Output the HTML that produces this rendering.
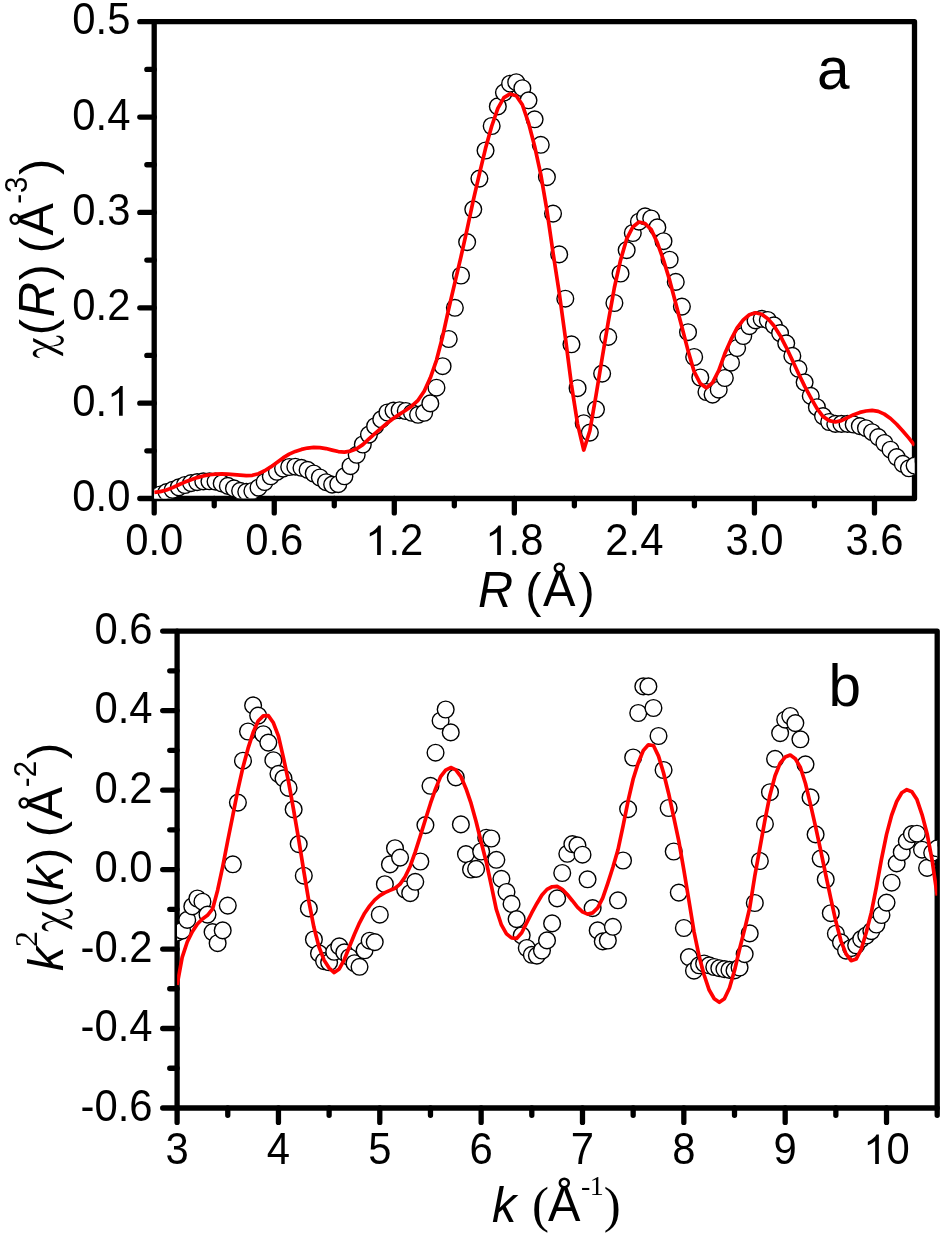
<!DOCTYPE html>
<html><head><meta charset="utf-8"><title>EXAFS fit</title>
<style>html,body{margin:0;padding:0;background:#fff}svg{display:block;will-change:transform}</style></head>
<body>
<svg width="944" height="1237" viewBox="0 0 944 1237">
<rect width="944" height="1237" fill="#fff"/>
<defs>
<clipPath id="ca"><rect x="154.2" y="21.7" width="760.3" height="476.8"/></clipPath>
<clipPath id="cb"><rect x="177.1" y="631.1" width="760.1" height="476.9"/></clipPath>
</defs>
<g fill="none" stroke="#000" stroke-width="5.3" stroke-linecap="round" stroke-linejoin="round">
<path d="M154.2 21.7 H914.5 V498.5 H154.2 Z"/>
<path d="M154.2 498.5 v14.4M274.25 498.5 v14.4M394.29 498.5 v14.4M514.34 498.5 v14.4M634.39 498.5 v14.4M754.44 498.5 v14.4M874.48 498.5 v14.4M214.22 498.5 v7.35M334.27 498.5 v7.35M454.32 498.5 v7.35M574.37 498.5 v7.35M694.41 498.5 v7.35M814.46 498.5 v7.35M154.2 498.5 h-14.4M154.2 403.14 h-14.4M154.2 307.78 h-14.4M154.2 212.42 h-14.4M154.2 117.06 h-14.4M154.2 21.7 h-14.4M154.2 450.82 h-7.35M154.2 355.46 h-7.35M154.2 260.1 h-7.35M154.2 164.74 h-7.35M154.2 69.38 h-7.35"/>
</g>
<g fill="none" stroke="#000" stroke-width="5.3" stroke-linecap="round" stroke-linejoin="round">
<path d="M177.1 631.1 H937.2 V1108 H177.1 Z"/>
<path d="M177.1 1108 v14.4M278.45 1108 v14.4M379.79 1108 v14.4M481.14 1108 v14.4M582.49 1108 v14.4M683.83 1108 v14.4M785.18 1108 v14.4M886.53 1108 v14.4M227.77 1108 v7.35M329.12 1108 v7.35M430.47 1108 v7.35M531.81 1108 v7.35M633.16 1108 v7.35M734.51 1108 v7.35M835.85 1108 v7.35M937.2 1108 v7.35M177.1 1108 h-14.4M177.1 1028.52 h-14.4M177.1 949.03 h-14.4M177.1 869.55 h-14.4M177.1 790.07 h-14.4M177.1 710.58 h-14.4M177.1 631.1 h-14.4M177.1 1068.26 h-7.35M177.1 988.77 h-7.35M177.1 909.29 h-7.35M177.1 829.81 h-7.35M177.1 750.33 h-7.35M177.1 670.84 h-7.35"/>
</g>
<g clip-path="url(#ca)" fill="#fff" stroke="#000" stroke-width="1.4">
<circle cx="154.2" cy="496.25" r="8.35"/>
<circle cx="160.34" cy="494.5" r="8.35"/>
<circle cx="166.47" cy="492.1" r="8.35"/>
<circle cx="172.61" cy="489.8" r="8.35"/>
<circle cx="178.74" cy="487.4" r="8.35"/>
<circle cx="184.88" cy="485" r="8.35"/>
<circle cx="191.02" cy="483.1" r="8.35"/>
<circle cx="197.15" cy="482.1" r="8.35"/>
<circle cx="203.29" cy="481.4" r="8.35"/>
<circle cx="209.42" cy="481.3" r="8.35"/>
<circle cx="215.56" cy="481.6" r="8.35"/>
<circle cx="221.7" cy="483.4" r="8.35"/>
<circle cx="227.83" cy="485.9" r="8.35"/>
<circle cx="233.97" cy="488.4" r="8.35"/>
<circle cx="240.1" cy="490.8" r="8.35"/>
<circle cx="246.24" cy="491.8" r="8.35"/>
<circle cx="252.38" cy="491" r="8.35"/>
<circle cx="258.51" cy="487.7" r="8.35"/>
<circle cx="264.65" cy="482" r="8.35"/>
<circle cx="270.78" cy="476.3" r="8.35"/>
<circle cx="276.92" cy="471.8" r="8.35"/>
<circle cx="283.06" cy="468.6" r="8.35"/>
<circle cx="289.19" cy="467" r="8.35"/>
<circle cx="295.33" cy="466.7" r="8.35"/>
<circle cx="301.46" cy="467.8" r="8.35"/>
<circle cx="307.6" cy="469.9" r="8.35"/>
<circle cx="313.74" cy="473.5" r="8.35"/>
<circle cx="319.87" cy="477.5" r="8.35"/>
<circle cx="326.01" cy="482.2" r="8.35"/>
<circle cx="332.14" cy="484.6" r="8.35"/>
<circle cx="338.28" cy="484.2" r="8.35"/>
<circle cx="344.42" cy="476.3" r="8.35"/>
<circle cx="350.55" cy="466.2" r="8.35"/>
<circle cx="356.69" cy="454.8" r="8.35"/>
<circle cx="362.82" cy="444.5" r="8.35"/>
<circle cx="368.96" cy="434.6" r="8.35"/>
<circle cx="375.1" cy="426.2" r="8.35"/>
<circle cx="381.23" cy="419.4" r="8.35"/>
<circle cx="387.37" cy="412.5" r="8.35"/>
<circle cx="393.5" cy="410.6" r="8.35"/>
<circle cx="399.64" cy="410.2" r="8.35"/>
<circle cx="405.78" cy="411" r="8.35"/>
<circle cx="411.91" cy="412.8" r="8.35"/>
<circle cx="418.05" cy="414.8" r="8.35"/>
<circle cx="424.18" cy="412.8" r="8.35"/>
<circle cx="430.32" cy="403.4" r="8.35"/>
<circle cx="436.46" cy="387.7" r="8.35"/>
<circle cx="442.59" cy="366.2" r="8.35"/>
<circle cx="448.73" cy="339" r="8.35"/>
<circle cx="454.86" cy="307.8" r="8.35"/>
<circle cx="461" cy="275.5" r="8.35"/>
<circle cx="467.14" cy="242.1" r="8.35"/>
<circle cx="473.27" cy="209.3" r="8.35"/>
<circle cx="479.41" cy="178.6" r="8.35"/>
<circle cx="485.54" cy="150.5" r="8.35"/>
<circle cx="491.68" cy="126" r="8.35"/>
<circle cx="497.82" cy="106.4" r="8.35"/>
<circle cx="503.95" cy="92.6" r="8.35"/>
<circle cx="510.09" cy="83.7" r="8.35"/>
<circle cx="516.22" cy="82.2" r="8.35"/>
<circle cx="522.36" cy="88.2" r="8.35"/>
<circle cx="528.5" cy="100.3" r="8.35"/>
<circle cx="534.63" cy="119.3" r="8.35"/>
<circle cx="540.77" cy="144.8" r="8.35"/>
<circle cx="546.9" cy="177.1" r="8.35"/>
<circle cx="553.04" cy="213.6" r="8.35"/>
<circle cx="559.18" cy="254.4" r="8.35"/>
<circle cx="565.31" cy="298.7" r="8.35"/>
<circle cx="571.45" cy="344.3" r="8.35"/>
<circle cx="577.58" cy="388.2" r="8.35"/>
<circle cx="583.72" cy="423.2" r="8.35"/>
<circle cx="589.86" cy="432.6" r="8.35"/>
<circle cx="595.99" cy="409.3" r="8.35"/>
<circle cx="602.13" cy="373.6" r="8.35"/>
<circle cx="608.26" cy="336.9" r="8.35"/>
<circle cx="614.4" cy="303" r="8.35"/>
<circle cx="620.54" cy="273.5" r="8.35"/>
<circle cx="626.67" cy="250.1" r="8.35"/>
<circle cx="632.81" cy="233" r="8.35"/>
<circle cx="638.94" cy="221.7" r="8.35"/>
<circle cx="645.08" cy="216.4" r="8.35"/>
<circle cx="651.22" cy="218.5" r="8.35"/>
<circle cx="657.35" cy="227.4" r="8.35"/>
<circle cx="663.49" cy="241.2" r="8.35"/>
<circle cx="669.62" cy="259.7" r="8.35"/>
<circle cx="675.76" cy="281.9" r="8.35"/>
<circle cx="681.9" cy="306.6" r="8.35"/>
<circle cx="688.03" cy="332.2" r="8.35"/>
<circle cx="694.17" cy="357" r="8.35"/>
<circle cx="700.3" cy="377.5" r="8.35"/>
<circle cx="706.44" cy="392" r="8.35"/>
<circle cx="712.58" cy="394.6" r="8.35"/>
<circle cx="718.71" cy="389.7" r="8.35"/>
<circle cx="724.85" cy="378" r="8.35"/>
<circle cx="730.98" cy="362.7" r="8.35"/>
<circle cx="737.12" cy="348" r="8.35"/>
<circle cx="743.26" cy="336" r="8.35"/>
<circle cx="749.39" cy="326.1" r="8.35"/>
<circle cx="755.53" cy="320.4" r="8.35"/>
<circle cx="761.66" cy="318.8" r="8.35"/>
<circle cx="767.8" cy="320" r="8.35"/>
<circle cx="773.94" cy="325.3" r="8.35"/>
<circle cx="780.07" cy="333.1" r="8.35"/>
<circle cx="786.21" cy="343.3" r="8.35"/>
<circle cx="792.34" cy="355.9" r="8.35"/>
<circle cx="798.48" cy="368.8" r="8.35"/>
<circle cx="804.62" cy="382.3" r="8.35"/>
<circle cx="810.75" cy="395.9" r="8.35"/>
<circle cx="816.89" cy="407.2" r="8.35"/>
<circle cx="823.02" cy="416.1" r="8.35"/>
<circle cx="829.16" cy="422" r="8.35"/>
<circle cx="835.3" cy="423.9" r="8.35"/>
<circle cx="841.43" cy="423.9" r="8.35"/>
<circle cx="847.57" cy="423.9" r="8.35"/>
<circle cx="853.7" cy="424.5" r="8.35"/>
<circle cx="859.84" cy="426.1" r="8.35"/>
<circle cx="865.98" cy="428.2" r="8.35"/>
<circle cx="872.11" cy="432.2" r="8.35"/>
<circle cx="878.25" cy="437.1" r="8.35"/>
<circle cx="884.38" cy="443" r="8.35"/>
<circle cx="890.52" cy="449.7" r="8.35"/>
<circle cx="896.66" cy="457.1" r="8.35"/>
<circle cx="902.79" cy="463.8" r="8.35"/>
<circle cx="908.93" cy="468.3" r="8.35"/>
<circle cx="914.6" cy="465.6" r="8.35"/>
</g>
<g clip-path="url(#ca)" fill="none" stroke="#f00" stroke-width="3.7" stroke-linejoin="round"><path d="M154.2 492.4 L160.34 491.65 L166.47 489.98 L172.61 487.6 L178.74 484.79 L184.88 482.08 L191.02 479.7 L197.15 477.62 L203.29 475.93 L209.42 474.73 L215.56 474.04 L221.7 473.86 L227.83 474.07 L233.97 474.54 L240.1 475.09 L246.24 475.56 L252.38 475.34 L258.51 473.66 L264.65 470.77 L270.78 466.93 L276.92 462.45 L283.06 457.9 L289.19 454.12 L295.33 451.39 L301.46 449.42 L307.6 448.06 L313.74 447.4 L319.87 447.55 L326.01 448.56 L332.14 450.08 L338.28 451.54 L344.42 452.12 L350.55 451.14 L356.69 448.75 L362.82 444.64 L368.96 438.91 L375.1 433.42 L381.23 428.18 L387.37 423 L393.5 418.22 L399.64 414.1 L405.78 410.23 L411.91 405.95 L418.05 400.27 L424.18 391.17 L430.32 377.79 L436.46 360.31 L442.59 336.7 L448.73 308.77 L454.86 282.57 L461 256.64 L467.14 229.12 L473.27 200.35 L479.41 173.94 L485.54 148.34 L491.68 126.23 L497.82 108.45 L503.95 97.66 L510.09 93.95 L516.22 95.76 L522.36 104.75 L528.5 122.84 L534.63 146.17 L540.77 174.4 L546.9 210.14 L553.04 252.76 L559.18 292.55 L565.31 337.2 L571.45 384.84 L577.58 424.06 L583.72 450.07 L589.86 430.75 L595.99 395.54 L602.13 358.23 L608.26 321.89 L614.4 287.53 L620.54 260.18 L626.67 238.95 L632.81 226.98 L638.94 222.06 L645.08 223.46 L651.22 229.65 L657.35 242.84 L663.49 260.02 L669.62 280.16 L675.76 303.55 L681.9 326.92 L688.03 350.62 L694.17 371.7 L700.3 383.56 L706.44 387.86 L712.58 382.59 L718.71 370.71 L724.85 353.56 L730.98 339.68 L737.12 327.93 L743.26 319.88 L749.39 314.78 L755.53 312.82 L761.66 314.21 L767.8 318.65 L773.94 325.79 L780.07 335.47 L786.21 347.29 L792.34 360.32 L798.48 373.51 L804.62 386.14 L810.75 397.52 L816.89 408.35 L823.02 416.52 L829.16 420.64 L835.3 421.99 L841.43 420.59 L847.57 417.66 L853.7 414.68 L859.84 412.41 L865.98 411.01 L872.11 410.4 L878.25 411.41 L884.38 414.13 L890.52 418.48 L896.66 424.27 L902.79 430.98 L908.93 438.09 L914.6 445.5"/></g>
<g clip-path="url(#cb)" fill="#fff" stroke="#000" stroke-width="1.4">
<circle cx="177.1" cy="932.6" r="8.35"/>
<circle cx="182.17" cy="930.7" r="8.35"/>
<circle cx="187.23" cy="919.9" r="8.35"/>
<circle cx="192.3" cy="906.4" r="8.35"/>
<circle cx="197.37" cy="898.5" r="8.35"/>
<circle cx="202.44" cy="901.7" r="8.35"/>
<circle cx="207.5" cy="914.6" r="8.35"/>
<circle cx="212.57" cy="932.1" r="8.35"/>
<circle cx="217.64" cy="943.2" r="8.35"/>
<circle cx="222.71" cy="930.4" r="8.35"/>
<circle cx="227.77" cy="905.6" r="8.35"/>
<circle cx="232.84" cy="864.3" r="8.35"/>
<circle cx="237.91" cy="802.6" r="8.35"/>
<circle cx="242.98" cy="760.7" r="8.35"/>
<circle cx="248.04" cy="731.5" r="8.35"/>
<circle cx="253.11" cy="705.4" r="8.35"/>
<circle cx="258.18" cy="715.6" r="8.35"/>
<circle cx="263.25" cy="734.2" r="8.35"/>
<circle cx="268.31" cy="742.6" r="8.35"/>
<circle cx="273.38" cy="760.2" r="8.35"/>
<circle cx="278.45" cy="773.8" r="8.35"/>
<circle cx="283.52" cy="778.4" r="8.35"/>
<circle cx="288.58" cy="787.9" r="8.35"/>
<circle cx="293.65" cy="809.4" r="8.35"/>
<circle cx="298.72" cy="844.1" r="8.35"/>
<circle cx="303.79" cy="875.7" r="8.35"/>
<circle cx="308.86" cy="908.4" r="8.35"/>
<circle cx="313.92" cy="939.5" r="8.35"/>
<circle cx="318.99" cy="953.4" r="8.35"/>
<circle cx="324.06" cy="961.1" r="8.35"/>
<circle cx="329.12" cy="962.3" r="8.35"/>
<circle cx="334.19" cy="951.8" r="8.35"/>
<circle cx="339.26" cy="946.4" r="8.35"/>
<circle cx="344.33" cy="952.4" r="8.35"/>
<circle cx="349.39" cy="957.2" r="8.35"/>
<circle cx="354.46" cy="963.2" r="8.35"/>
<circle cx="359.53" cy="966.8" r="8.35"/>
<circle cx="364.6" cy="950.3" r="8.35"/>
<circle cx="369.66" cy="940.7" r="8.35"/>
<circle cx="374.73" cy="942.1" r="8.35"/>
<circle cx="379.8" cy="914.7" r="8.35"/>
<circle cx="384.87" cy="884.2" r="8.35"/>
<circle cx="389.94" cy="864.4" r="8.35"/>
<circle cx="395" cy="848.2" r="8.35"/>
<circle cx="400.07" cy="857.6" r="8.35"/>
<circle cx="405.14" cy="889.5" r="8.35"/>
<circle cx="410.2" cy="893.2" r="8.35"/>
<circle cx="415.27" cy="881.8" r="8.35"/>
<circle cx="420.34" cy="861.5" r="8.35"/>
<circle cx="425.41" cy="825.1" r="8.35"/>
<circle cx="430.48" cy="785.8" r="8.35"/>
<circle cx="435.54" cy="752.7" r="8.35"/>
<circle cx="440.61" cy="720.7" r="8.35"/>
<circle cx="445.68" cy="709.5" r="8.35"/>
<circle cx="450.75" cy="732.4" r="8.35"/>
<circle cx="455.81" cy="777.4" r="8.35"/>
<circle cx="460.88" cy="824.4" r="8.35"/>
<circle cx="465.95" cy="854.1" r="8.35"/>
<circle cx="471.01" cy="869.5" r="8.35"/>
<circle cx="476.08" cy="868.9" r="8.35"/>
<circle cx="481.15" cy="851.5" r="8.35"/>
<circle cx="486.22" cy="837.7" r="8.35"/>
<circle cx="491.28" cy="838.5" r="8.35"/>
<circle cx="496.35" cy="859.8" r="8.35"/>
<circle cx="501.42" cy="878.8" r="8.35"/>
<circle cx="506.49" cy="892" r="8.35"/>
<circle cx="511.55" cy="903.9" r="8.35"/>
<circle cx="516.62" cy="919.1" r="8.35"/>
<circle cx="521.69" cy="935.3" r="8.35"/>
<circle cx="526.76" cy="948" r="8.35"/>
<circle cx="531.82" cy="954.8" r="8.35"/>
<circle cx="536.89" cy="955.6" r="8.35"/>
<circle cx="541.96" cy="950.5" r="8.35"/>
<circle cx="547.03" cy="940.4" r="8.35"/>
<circle cx="552.1" cy="923.4" r="8.35"/>
<circle cx="557.16" cy="898.4" r="8.35"/>
<circle cx="562.23" cy="873" r="8.35"/>
<circle cx="567.3" cy="853.8" r="8.35"/>
<circle cx="572.37" cy="844.1" r="8.35"/>
<circle cx="577.43" cy="845.3" r="8.35"/>
<circle cx="582.5" cy="854.7" r="8.35"/>
<circle cx="587.57" cy="879.3" r="8.35"/>
<circle cx="592.63" cy="908.1" r="8.35"/>
<circle cx="597.7" cy="930.4" r="8.35"/>
<circle cx="602.77" cy="941.4" r="8.35"/>
<circle cx="607.84" cy="940.5" r="8.35"/>
<circle cx="612.9" cy="926.8" r="8.35"/>
<circle cx="617.97" cy="900.3" r="8.35"/>
<circle cx="623.04" cy="860.5" r="8.35"/>
<circle cx="628.11" cy="809.1" r="8.35"/>
<circle cx="633.17" cy="757.5" r="8.35"/>
<circle cx="638.24" cy="713" r="8.35"/>
<circle cx="643.31" cy="686.4" r="8.35"/>
<circle cx="648.38" cy="686.4" r="8.35"/>
<circle cx="653.44" cy="708" r="8.35"/>
<circle cx="658.51" cy="736" r="8.35"/>
<circle cx="663.58" cy="770" r="8.35"/>
<circle cx="668.65" cy="808" r="8.35"/>
<circle cx="673.72" cy="851.5" r="8.35"/>
<circle cx="678.78" cy="892.6" r="8.35"/>
<circle cx="683.85" cy="928" r="8.35"/>
<circle cx="688.92" cy="957.1" r="8.35"/>
<circle cx="693.99" cy="970.7" r="8.35"/>
<circle cx="699.05" cy="965.3" r="8.35"/>
<circle cx="704.12" cy="963.5" r="8.35"/>
<circle cx="709.19" cy="965.3" r="8.35"/>
<circle cx="714.25" cy="967" r="8.35"/>
<circle cx="719.32" cy="968.2" r="8.35"/>
<circle cx="724.39" cy="969.1" r="8.35"/>
<circle cx="729.46" cy="969.9" r="8.35"/>
<circle cx="734.52" cy="970.4" r="8.35"/>
<circle cx="739.59" cy="967.5" r="8.35"/>
<circle cx="744.66" cy="954.1" r="8.35"/>
<circle cx="749.73" cy="933.4" r="8.35"/>
<circle cx="754.79" cy="903" r="8.35"/>
<circle cx="759.86" cy="861" r="8.35"/>
<circle cx="764.93" cy="823.9" r="8.35"/>
<circle cx="770" cy="792.2" r="8.35"/>
<circle cx="775.07" cy="758.8" r="8.35"/>
<circle cx="780.13" cy="733.1" r="8.35"/>
<circle cx="785.2" cy="719.7" r="8.35"/>
<circle cx="790.27" cy="716" r="8.35"/>
<circle cx="795.34" cy="723.1" r="8.35"/>
<circle cx="800.4" cy="739.3" r="8.35"/>
<circle cx="805.47" cy="764.4" r="8.35"/>
<circle cx="810.54" cy="797.4" r="8.35"/>
<circle cx="815.61" cy="834.4" r="8.35"/>
<circle cx="820.67" cy="858.6" r="8.35"/>
<circle cx="825.74" cy="879.5" r="8.35"/>
<circle cx="830.81" cy="913.2" r="8.35"/>
<circle cx="835.88" cy="933.7" r="8.35"/>
<circle cx="840.94" cy="942.3" r="8.35"/>
<circle cx="846.01" cy="950.6" r="8.35"/>
<circle cx="851.08" cy="948" r="8.35"/>
<circle cx="856.14" cy="945.3" r="8.35"/>
<circle cx="861.21" cy="939.1" r="8.35"/>
<circle cx="866.28" cy="935.5" r="8.35"/>
<circle cx="871.35" cy="931.1" r="8.35"/>
<circle cx="876.41" cy="924.5" r="8.35"/>
<circle cx="881.48" cy="915" r="8.35"/>
<circle cx="886.55" cy="902.6" r="8.35"/>
<circle cx="891.62" cy="882.7" r="8.35"/>
<circle cx="896.69" cy="863.4" r="8.35"/>
<circle cx="901.75" cy="852.2" r="8.35"/>
<circle cx="906.82" cy="841.2" r="8.35"/>
<circle cx="911.89" cy="834.1" r="8.35"/>
<circle cx="916.96" cy="833.7" r="8.35"/>
<circle cx="922.02" cy="849.7" r="8.35"/>
<circle cx="927.09" cy="867.9" r="8.35"/>
<circle cx="932.16" cy="852.8" r="8.35"/>
<circle cx="937.23" cy="848.3" r="8.35"/>
</g>
<g clip-path="url(#cb)" fill="none" stroke="#f00" stroke-width="3.7" stroke-linejoin="round"><path d="M177.1 985 L182.17 957.42 L187.23 941.96 L192.3 931.72 L197.37 924.04 L202.44 918.93 L207.5 915.36 L212.57 908.95 L217.64 890.18 L222.71 866.64 L227.77 840.51 L232.84 815.49 L237.91 789.68 L242.98 767.15 L248.04 748.4 L253.11 732.61 L258.18 720.96 L263.25 715.92 L268.31 715.7 L273.38 722.78 L278.45 736.2 L283.52 758.06 L288.58 781.86 L293.65 810.16 L298.72 839.57 L303.79 871.15 L308.86 901.42 L313.92 927.28 L318.99 946.94 L324.06 960.13 L329.12 968.08 L334.19 972.51 L339.26 968.9 L344.33 959.52 L349.39 946.71 L354.46 934.24 L359.53 922.79 L364.6 913.21 L369.66 905.83 L374.73 899.85 L379.8 895.63 L384.87 892.61 L389.94 890.41 L395 888.21 L400.07 884.11 L405.14 876.73 L410.2 866.18 L415.27 851.9 L420.34 835.92 L425.41 819.54 L430.48 803.47 L435.54 788.87 L440.61 776.6 L445.68 770.07 L450.75 767.54 L455.81 769.9 L460.88 776.54 L465.95 788.45 L471.01 803.17 L476.08 821.44 L481.15 842.04 L486.22 861.67 L491.28 885.33 L496.35 909.54 L501.42 924.96 L506.49 933.88 L511.55 937.91 L516.62 938.44 L521.69 932.76 L526.76 922.68 L531.82 912.72 L536.89 903.47 L541.96 895 L547.03 889.37 L552.1 886.76 L557.16 886.45 L562.23 889.29 L567.3 894.54 L572.37 900.72 L577.43 907.19 L582.5 911.85 L587.57 914.14 L592.63 912.92 L597.7 907.84 L602.77 897.88 L607.84 883.03 L612.9 867.3 L617.97 849.84 L623.04 826.06 L628.11 800.77 L633.17 778.99 L638.24 762.86 L643.31 750.49 L648.38 744.82 L653.44 745.5 L658.51 756.11 L663.58 772.94 L668.65 793.47 L673.72 817.21 L678.78 840.9 L683.85 870 L688.92 900.47 L693.99 931.64 L699.05 955.96 L704.12 975.02 L709.19 990.04 L714.25 998.77 L719.32 1002.28 L724.39 998.72 L729.46 987.93 L734.52 970.59 L739.59 948.99 L744.66 929.12 L749.73 907.75 L754.79 876.03 L759.86 848.12 L764.93 820.14 L770 794.94 L775.07 775.73 L780.13 763.21 L785.2 757.06 L790.27 755.07 L795.34 758.76 L800.4 767.49 L805.47 783.49 L810.54 804.59 L815.61 826.85 L820.67 850.38 L825.74 874.75 L830.81 898.62 L835.88 921.58 L840.94 940.81 L846.01 953.82 L851.08 960.72 L856.14 959.01 L861.21 949.49 L866.28 932.23 L871.35 912.38 L876.41 886.8 L881.48 859.13 L886.55 834.4 L891.62 815.26 L896.69 801.49 L901.75 792.73 L906.82 789.69 L911.89 791.66 L916.96 799.6 L922.02 814.56 L927.09 833.7 L932.16 860.46 L937.23 895.6"/></g>
<g font-family="'Liberation Sans', sans-serif" fill="#000">
<text transform="translate(154.2 555.1) scale(1 1.04)" font-size="41.8" text-anchor="middle">0.0</text>
<text transform="translate(274.25 555.1) scale(1 1.04)" font-size="41.8" text-anchor="middle">0.6</text>
<g transform="translate(365.24 555.1) scale(1 1.04)"><path transform="translate(0 0) scale(0.02041 -0.01933)" d="M763 0H583V1147Q518 1085 412.5 1023T223 930V1104Q374 1175 487 1276T647 1472H763Z"/><text x="23.25" font-size="41.8">.2</text></g>
<g transform="translate(485.29 555.1) scale(1 1.04)"><path transform="translate(0 0) scale(0.02041 -0.01933)" d="M763 0H583V1147Q518 1085 412.5 1023T223 930V1104Q374 1175 487 1276T647 1472H763Z"/><text x="23.25" font-size="41.8">.8</text></g>
<text transform="translate(634.39 555.1) scale(1 1.04)" font-size="41.8" text-anchor="middle">2.4</text>
<text transform="translate(754.44 555.1) scale(1 1.04)" font-size="41.8" text-anchor="middle">3.0</text>
<text transform="translate(874.48 555.1) scale(1 1.04)" font-size="41.8" text-anchor="middle">3.6</text>
<text transform="translate(130.4 511) scale(1 1.04)" font-size="41.8" text-anchor="end">0.0</text>
<g transform="translate(72.29 415.64) scale(1 1.04)"><text x="0" font-size="41.8">0.</text><path transform="translate(34.86 0) scale(0.02041 -0.01933)" d="M763 0H583V1147Q518 1085 412.5 1023T223 930V1104Q374 1175 487 1276T647 1472H763Z"/></g>
<text transform="translate(130.4 320.28) scale(1 1.04)" font-size="41.8" text-anchor="end">0.2</text>
<text transform="translate(130.4 224.92) scale(1 1.04)" font-size="41.8" text-anchor="end">0.3</text>
<text transform="translate(130.4 129.56) scale(1 1.04)" font-size="41.8" text-anchor="end">0.4</text>
<text transform="translate(130.4 34.2) scale(1 1.04)" font-size="41.8" text-anchor="end">0.5</text>
<text transform="translate(177.1 1164) scale(1 1.04)" font-size="41.8" text-anchor="middle">3</text>
<text transform="translate(278.45 1164) scale(1 1.04)" font-size="41.8" text-anchor="middle">4</text>
<text transform="translate(379.79 1164) scale(1 1.04)" font-size="41.8" text-anchor="middle">5</text>
<text transform="translate(481.14 1164) scale(1 1.04)" font-size="41.8" text-anchor="middle">6</text>
<text transform="translate(582.49 1164) scale(1 1.04)" font-size="41.8" text-anchor="middle">7</text>
<text transform="translate(683.83 1164) scale(1 1.04)" font-size="41.8" text-anchor="middle">8</text>
<text transform="translate(785.18 1164) scale(1 1.04)" font-size="41.8" text-anchor="middle">9</text>
<g transform="translate(863.28 1164) scale(1 1.04)"><path transform="translate(0 0) scale(0.02041 -0.01933)" d="M763 0H583V1147Q518 1085 412.5 1023T223 930V1104Q374 1175 487 1276T647 1472H763Z"/><text x="23.25" font-size="41.8">0</text></g>
<text transform="translate(152.6 1120.5) scale(1 1.04)" font-size="41.8" text-anchor="end">-0.6</text>
<text transform="translate(152.6 1041.02) scale(1 1.04)" font-size="41.8" text-anchor="end">-0.4</text>
<text transform="translate(152.6 961.53) scale(1 1.04)" font-size="41.8" text-anchor="end">-0.2</text>
<text transform="translate(152.6 882.05) scale(1 1.04)" font-size="41.8" text-anchor="end">0.0</text>
<text transform="translate(152.6 802.57) scale(1 1.04)" font-size="41.8" text-anchor="end">0.2</text>
<text transform="translate(152.6 723.08) scale(1 1.04)" font-size="41.8" text-anchor="end">0.4</text>
<text transform="translate(152.6 643.6) scale(1 1.04)" font-size="41.8" text-anchor="end">0.6</text>
<text transform="translate(53.6 335.35) rotate(-90)" font-size="48.7">(</text>
<text transform="translate(53.7 317.2) rotate(-90) scale(1 1.035)" font-size="48.7" font-style="italic">R</text>
<text transform="translate(53.6 280.45) rotate(-90)" font-size="48.7">)</text>
<text transform="translate(53.6 253.3) rotate(-90)" font-size="48.7">(</text>
<text transform="translate(53.4 235.55) rotate(-90) scale(1 1.035)" font-size="48.7">Å</text>
<text transform="translate(27.55 203.65) rotate(-90) scale(1 1.035)" font-size="29.5">-</text>
<text transform="translate(27.15 193.1) rotate(-90) scale(1 1.035)" font-size="29.5">3</text>
<text transform="translate(53.6 175) rotate(-90)" font-size="48.7">)</text>
<text transform="translate(62.95 971.05) rotate(-90) scale(1 1.035)" font-size="48.7" font-style="italic">k</text>
<text transform="translate(36.55 947.1) rotate(-90)" font-size="32" font-family="'Liberation Serif', serif">2</text>
<text transform="translate(62.1 907.55) rotate(-90)" font-size="48.7">(</text>
<text transform="translate(62.95 890.3) rotate(-90) scale(1 1.035)" font-size="48.7" font-style="italic">k</text>
<text transform="translate(62.1 864.05) rotate(-90)" font-size="48.7">)</text>
<text transform="translate(62.1 837.25) rotate(-90)" font-size="48.7">(</text>
<text transform="translate(61.7 819.35) rotate(-90) scale(1 1.035)" font-size="48.7">Å</text>
<text transform="translate(35.65 787.2) rotate(-90) scale(1 1.035)" font-size="29.5">-</text>
<text transform="translate(35.5 777.25) rotate(-90) scale(1 1.035)" font-size="29.5">2</text>
<text transform="translate(62.25 759.1) rotate(-90)" font-size="48.7">)</text>
<text transform="translate(477.95 606.8) scale(1 1.035)" font-size="48.7" font-style="italic">R</text>
<text transform="translate(525.35 606.95)" font-size="48.7">(</text>
<text transform="translate(543 606.3) scale(1 1.035)" font-size="48.7">Å</text>
<text transform="translate(578.45 606.95)" font-size="48.7">)</text>
<text transform="translate(492.05 1222.05) scale(1 1.035)" font-size="48.7" font-style="italic">k</text>
<text transform="translate(532.05 1221.85)" font-size="51" font-family="'Liberation Serif', serif">(</text>
<text transform="translate(548 1221) scale(1 1.035)" font-size="48.7">Å</text>
<text transform="translate(580.9 1194.6)" font-size="28" font-family="'Liberation Serif', serif">-</text>
<text transform="translate(589.8 1194.55)" font-size="28" font-family="'Liberation Serif', serif">1</text>
<text transform="translate(603.75 1221.85)" font-size="51" font-family="'Liberation Serif', serif">)</text>
<text transform="translate(817 88.8)" font-size="58.5">a</text>
<text transform="translate(828.6 705.5)" font-size="58.5">b</text>
</g>
<path d="M33.1 338.01 L33.1 341.53 L63.13 356.31 L63.13 352.78Z M53.6 346.3 L54.16 346.23 L54.73 346.16 L55.31 346.08 L55.89 346 L56.48 345.9 L57.06 345.8 L57.65 345.67 L58.22 345.53 L58.79 345.36 L59.36 345.18 L59.9 344.96 L60.44 344.71 L60.95 344.43 L61.45 344.11 L61.92 343.75 L62.36 343.35 L62.76 342.91 L63.11 342.43 L63.41 341.92 L63.63 341.37 L63.78 340.79 L63.84 340.19 L63.81 339.6 L63.69 339.02 L63.48 338.47 L63.18 337.96 L62.8 337.49 L62.38 337.07 L61.9 336.71 L61.4 336.4 L60.87 336.15 L60.31 335.95 L59.74 335.8 L59.15 335.69 L58.56 335.64 L57.96 335.62 L57.37 335.65 L56.79 335.71 L56.22 335.82 L56.22 336.58 L56.65 336.68 L57.1 336.8 L57.55 336.94 L58.01 337.1 L58.46 337.29 L58.89 337.5 L59.3 337.75 L59.68 338.04 L60.02 338.36 L60.31 338.73 L60.54 339.14 L60.72 339.58 L60.82 340.05 L60.86 340.52 L60.83 341 L60.72 341.46 L60.54 341.91 L60.31 342.32 L60.03 342.71 L59.7 343.05 L59.35 343.36 L58.96 343.62 L58.55 343.85 L58.12 344.04 L57.67 344.21 L57.21 344.36 L56.74 344.5 L56.27 344.62 L55.79 344.73 L55.33 344.84 L54.87 344.96 L54.43 345.07 L54 345.2 L53.6 345.35Z M44.07 347.25 L43.42 347.4 L42.77 347.54 L42.12 347.68 L41.48 347.82 L40.83 347.97 L40.19 348.12 L39.56 348.28 L38.93 348.46 L38.3 348.65 L37.68 348.87 L37.06 349.11 L36.46 349.37 L35.86 349.67 L35.27 350 L34.7 350.37 L34.16 350.79 L33.67 351.26 L33.27 351.78 L32.98 352.37 L32.82 353.03 L32.78 353.71 L32.88 354.39 L33.1 355.02 L33.44 355.57 L33.9 356.04 L34.43 356.44 L35.04 356.78 L35.69 357.06 L36.37 357.3 L37.07 357.49 L37.75 357.65 L38.4 357.79 L39 357.91 L39.54 358.03 L39.54 357.26 L39.12 357.1 L38.72 356.9 L38.33 356.67 L37.95 356.39 L37.61 356.09 L37.29 355.76 L37 355.4 L36.76 355.01 L36.55 354.61 L36.4 354.17 L36.31 353.72 L36.27 353.26 L36.3 352.8 L36.39 352.35 L36.54 351.92 L36.76 351.53 L37.04 351.18 L37.36 350.86 L37.72 350.57 L38.11 350.31 L38.51 350.07 L38.92 349.86 L39.33 349.66 L39.75 349.48 L40.16 349.32 L40.59 349.17 L41.01 349.03 L41.44 348.9 L41.88 348.78 L42.31 348.66 L42.75 348.55 L43.18 348.43 L43.62 348.32 L44.07 348.21Z" fill="#000"/><path d="M53.6 345.82 L53.1 345.92 L52.6 346.03 L52.09 346.13 L51.59 346.23 L51.09 346.33 L50.59 346.43 L50.09 346.53 L49.58 346.63 L49.08 346.73 L48.58 346.83 L48.08 346.93 L47.58 347.03 L47.08 347.13 L46.57 347.23 L46.07 347.33 L45.57 347.43 L45.07 347.53 L44.57 347.63 L44.07 347.73" fill="none" stroke="#000" stroke-width="0.9"/>
<path d="M42.1 911.41 L42.1 914.93 L72.13 929.71 L72.13 926.18Z M62.6 919.7 L63.16 919.63 L63.73 919.56 L64.31 919.48 L64.89 919.4 L65.48 919.3 L66.06 919.2 L66.65 919.07 L67.22 918.93 L67.79 918.76 L68.36 918.58 L68.9 918.36 L69.44 918.11 L69.95 917.83 L70.45 917.51 L70.92 917.15 L71.36 916.75 L71.76 916.31 L72.11 915.83 L72.41 915.32 L72.63 914.77 L72.78 914.19 L72.84 913.59 L72.81 913 L72.69 912.42 L72.48 911.87 L72.18 911.36 L71.8 910.89 L71.38 910.47 L70.9 910.11 L70.4 909.8 L69.87 909.55 L69.31 909.35 L68.74 909.2 L68.15 909.09 L67.56 909.04 L66.96 909.02 L66.37 909.05 L65.79 909.11 L65.22 909.22 L65.22 909.98 L65.65 910.08 L66.1 910.2 L66.55 910.34 L67.01 910.5 L67.46 910.69 L67.89 910.9 L68.3 911.15 L68.68 911.44 L69.02 911.76 L69.31 912.13 L69.54 912.54 L69.72 912.98 L69.82 913.45 L69.86 913.92 L69.83 914.4 L69.72 914.86 L69.54 915.31 L69.31 915.72 L69.03 916.11 L68.7 916.45 L68.35 916.76 L67.96 917.02 L67.55 917.25 L67.12 917.44 L66.67 917.61 L66.21 917.76 L65.74 917.9 L65.27 918.02 L64.79 918.13 L64.33 918.24 L63.87 918.36 L63.43 918.47 L63 918.6 L62.6 918.75Z M53.07 920.65 L52.42 920.8 L51.77 920.94 L51.12 921.08 L50.48 921.22 L49.83 921.37 L49.19 921.52 L48.56 921.68 L47.93 921.86 L47.3 922.05 L46.68 922.27 L46.06 922.51 L45.46 922.77 L44.86 923.07 L44.27 923.4 L43.7 923.77 L43.16 924.19 L42.67 924.66 L42.27 925.18 L41.98 925.77 L41.82 926.43 L41.78 927.11 L41.88 927.79 L42.1 928.42 L42.44 928.97 L42.9 929.44 L43.43 929.84 L44.04 930.18 L44.69 930.46 L45.37 930.7 L46.07 930.89 L46.75 931.05 L47.4 931.19 L48 931.31 L48.54 931.43 L48.54 930.66 L48.12 930.5 L47.72 930.3 L47.33 930.07 L46.95 929.79 L46.61 929.49 L46.29 929.16 L46 928.8 L45.76 928.41 L45.55 928.01 L45.4 927.57 L45.31 927.12 L45.27 926.66 L45.3 926.2 L45.39 925.75 L45.54 925.32 L45.76 924.93 L46.04 924.58 L46.36 924.26 L46.72 923.97 L47.11 923.71 L47.51 923.47 L47.92 923.26 L48.33 923.06 L48.75 922.88 L49.16 922.72 L49.59 922.57 L50.01 922.43 L50.44 922.3 L50.88 922.18 L51.31 922.06 L51.75 921.95 L52.18 921.83 L52.62 921.72 L53.07 921.61Z" fill="#000"/><path d="M62.6 919.22 L62.1 919.32 L61.6 919.43 L61.09 919.53 L60.59 919.63 L60.09 919.73 L59.59 919.83 L59.09 919.93 L58.58 920.03 L58.08 920.13 L57.58 920.23 L57.08 920.33 L56.58 920.43 L56.08 920.53 L55.57 920.63 L55.07 920.73 L54.57 920.83 L54.07 920.93 L53.57 921.03 L53.07 921.13" fill="none" stroke="#000" stroke-width="0.9"/>
</svg>
</body></html>
